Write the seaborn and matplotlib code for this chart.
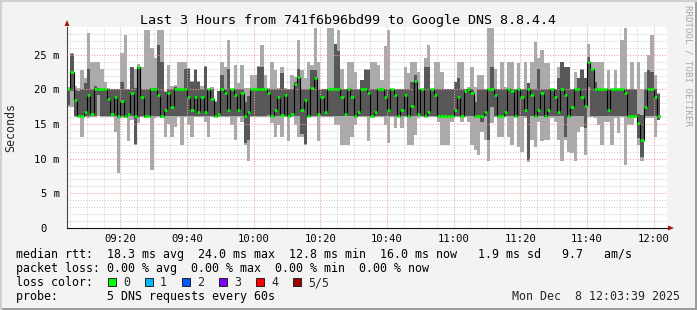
import numpy as np
import pandas as pd
import matplotlib
matplotlib.use("Agg")
import matplotlib.pyplot as plt
import seaborn as sns
from matplotlib.patches import Rectangle, Polygon

# ---------------- data (ms), one value per minute starting 09:04 ----------------
first_minute = 4          # minutes after 09:00 of the first sample
med = [
    20.1, 22.5, 18.5, 16.1, 16.1, 16.8, 19.2, 16.4, 20.0, 20.0,
    20.0, 20.0, 18.6, 16.4, 18.9, 16.1, 18.3, 16.1, 16.4, 19.5,
    16.1, 23.2, 18.9, 16.1, 16.2, 20.0, 20.0, 19.2, 16.1, 17.0,
    19.5, 17.4, 20.0, 20.0, 20.0, 20.0, 18.9, 17.0, 18.9, 16.8,
    18.9, 16.8, 20.0, 18.6, 16.1, 16.4, 20.0, 19.5, 17.0, 20.0,
    19.2, 17.0, 19.5, 16.1, 16.8, 20.0, 20.0, 20.0, 20.0, 20.0,
    19.5, 16.1, 17.0, 18.9, 16.3, 19.2, 16.1, 16.4, 20.8, 21.8,
    17.0, 18.5, 16.1, 20.2, 21.7, 16.4, 18.9, 16.8, 20.0, 20.0,
    20.0, 20.0, 18.9, 16.4, 20.0, 18.9, 16.1, 16.8, 20.0, 20.0,
    19.5, 16.1, 16.8, 20.0, 20.0, 18.9, 17.0, 20.0, 19.2, 16.1,
    17.0, 19.2, 16.1, 17.6, 21.2, 16.4, 20.0, 16.2, 16.8, 20.0,
    19.2, 16.1, 16.1, 16.1, 16.1, 16.1, 17.0, 18.9, 16.1, 19.8,
    20.0, 19.5, 16.1, 16.1, 16.1, 16.8, 20.0, 20.0, 19.2, 16.1,
    16.1, 16.8, 20.0, 19.8, 16.2, 20.0, 18.9, 17.0, 20.0, 19.2,
    16.1, 17.0, 19.5, 16.1, 17.0, 20.0, 18.9, 16.8, 20.0, 19.2,
    16.1, 17.5, 20.0, 20.0, 18.9, 17.6, 24.0, 22.9, 20.0, 20.0,
    20.0, 20.0, 17.0, 20.0, 20.0, 20.0, 20.0, 19.5, 16.1, 16.1,
    16.1, 15.2, 12.7, 17.5, 20.0, 20.0, 18.9, 16.1]
lo = [
    17.5, 17.5, 16.0, 16.0, 13.2, 16.0, 15.8, 16.0, 16.0, 16.1,
    16.0, 16.0, 16.0, 16.0, 13.8, 8.0, 15.8, 15.8, 12.5, 15.6,
    12.0, 15.2, 16.0, 15.9, 16.0, 8.3, 15.9, 16.0, 15.9, 13.2,
    15.0, 13.2, 14.6, 16.0, 12.0, 16.0, 14.9, 13.2, 16.0, 16.0,
    16.0, 15.3, 13.2, 16.0, 16.0, 16.0, 16.0, 16.0, 16.0, 14.9,
    12.7, 16.0, 15.3, 12.0, 9.6, 16.0, 16.0, 16.0, 16.0, 16.0,
    16.0, 15.1, 13.2, 14.9, 13.2, 16.0, 12.5, 16.0, 14.9, 13.2,
    13.2, 12.0, 16.0, 16.0, 16.0, 12.5, 16.0, 16.0, 16.0, 16.0,
    14.9, 14.9, 12.0, 12.0, 12.0, 13.2, 14.9, 16.0, 16.0, 16.0,
    12.5, 16.0, 16.0, 16.0, 16.0, 14.9, 12.2, 16.0, 14.4, 16.0,
    14.4, 16.0, 12.0, 12.0, 13.4, 15.8, 16.0, 16.0, 16.0, 16.0,
    16.0, 15.3, 12.0, 12.0, 12.0, 15.3, 16.0, 16.0, 15.3, 16.0,
    15.3, 12.0, 11.2, 10.5, 13.9, 12.7, 9.6, 15.1, 16.0, 13.2,
    13.2, 16.0, 13.2, 12.0, 16.0, 11.7, 11.0, 15.8, 9.5, 12.7,
    11.7, 15.3, 12.5, 12.7, 12.7, 15.8, 15.3, 12.7, 9.6, 12.7,
    11.0, 10.8, 9.6, 13.9, 14.6, 10.5, 16.0, 16.0, 15.8, 14.9,
    12.0, 15.3, 15.3, 12.0, 15.8, 13.7, 16.0, 9.1, 14.9, 14.9,
    15.8, 12.0, 9.6, 15.8, 15.8, 15.8, 13.2, 15.6]
hi = [
    20.3, 25.2, 20.5, 20.2, 22.8, 21.6, 28.1, 24.0, 24.0, 24.0,
    23.0, 21.1, 20.2, 20.1, 20.1, 20.1, 25.2, 27.8, 20.1, 23.3,
    23.0, 23.6, 23.3, 28.6, 28.6, 25.9, 24.5, 28.6, 28.6, 19.7,
    23.5, 20.5, 20.6, 24.0, 24.0, 24.0, 23.1, 21.2, 22.9, 21.2,
    20.5, 23.4, 20.1, 20.3, 18.3, 19.8, 24.0, 23.3, 27.1, 20.1,
    23.5, 20.9, 23.5, 20.2, 20.2, 22.1, 22.1, 23.4, 26.4, 22.1,
    20.2, 24.0, 22.8, 20.2, 23.3, 20.2, 20.1, 22.1, 21.8, 27.1,
    22.8, 21.6, 24.0, 23.5, 28.8, 24.0, 20.1, 20.1, 28.8, 28.8,
    26.6, 28.6, 23.0, 20.1, 24.0, 24.0, 22.5, 20.1, 21.3, 22.9,
    22.9, 24.0, 24.0, 23.5, 21.3, 26.2, 28.6, 20.1, 20.1, 20.1,
    20.1, 23.3, 22.3, 24.0, 24.0, 22.5, 20.1, 24.5, 26.4, 20.1,
    24.0, 24.0, 22.5, 20.1, 20.1, 20.1, 21.1, 24.0, 24.0, 20.1,
    20.3, 23.3, 20.3, 22.1, 22.1, 20.1, 28.8, 28.8, 23.0, 20.1,
    24.0, 20.3, 24.0, 24.0, 20.1, 23.75, 20.1, 24.0, 20.9, 24.0,
    26.9, 24.5, 25.7, 23.75, 23.75, 20.1, 20.1, 23.3, 24.0, 23.3,
    23.3, 20.1, 22.5, 21.7, 22.9, 21.6, 26.6, 24.0, 24.0, 24.0,
    24.0, 20.1, 22.8, 20.1, 22.8, 20.1, 27.1, 28.8, 20.1, 24.0,
    20.1, 24.0, 20.0, 22.5, 25.0, 27.8, 22.1, 19.5]
q1 = [
    17.8, 19.8, 16.2, 16.1, 16.1, 16.1, 16.1, 16.1, 16.1, 19.2,
    16.1, 16.1, 16.2, 16.1, 16.2, 15.8, 16.1, 16.1, 16.1, 16.1,
    12.1, 16.0, 16.1, 16.0, 16.1, 16.1, 16.1, 16.1, 16.0, 16.2,
    16.1, 16.1, 16.1, 16.1, 16.1, 16.1, 16.1, 16.1, 16.1, 16.1,
    16.1, 16.1, 16.1, 16.1, 16.1, 16.1, 16.1, 16.1, 16.1, 16.1,
    16.1, 16.1, 16.1, 12.2, 12.7, 16.1, 16.1, 16.1, 16.1, 16.1,
    16.3, 16.1, 16.1, 16.1, 16.1, 16.1, 16.0, 16.1, 16.1, 16.1,
    13.5, 12.1, 16.1, 16.1, 16.1, 16.1, 16.1, 16.1, 16.1, 16.1,
    16.1, 16.1, 16.1, 16.1, 16.1, 16.1, 16.0, 16.1, 16.1, 16.1,
    16.1, 16.1, 16.1, 16.1, 16.1, 16.1, 16.1, 16.1, 16.1, 16.1,
    16.1, 16.1, 16.0, 16.1, 16.1, 16.1, 16.1, 16.1, 16.1, 16.1,
    16.1, 16.1, 16.0, 16.0, 16.0, 16.0, 16.1, 16.1, 16.0, 16.1,
    16.1, 16.1, 16.0, 16.0, 15.3, 16.1, 12.7, 17.5, 16.1, 16.0,
    16.0, 16.1, 16.1, 16.1, 16.1, 16.1, 16.1, 16.1, 9.8, 16.1,
    16.0, 16.1, 16.1, 16.0, 16.1, 16.1, 16.1, 16.1, 16.1, 13.2,
    16.0, 16.1, 16.1, 16.1, 16.1, 14.4, 20.4, 16.1, 16.1, 16.1,
    16.1, 16.1, 16.1, 16.1, 16.1, 16.1, 16.1, 16.1, 16.0, 16.0,
    16.0, 13.0, 10.3, 16.1, 16.1, 16.1, 16.1, 15.6]
q3 = [
    20.1, 25.1, 20.0, 19.8, 20.0, 20.9, 23.0, 20.0, 20.5, 20.2,
    20.1, 20.1, 20.0, 20.0, 20.0, 20.0, 21.0, 20.0, 20.0, 23.2,
    20.2, 23.3, 20.0, 20.0, 20.0, 20.2, 20.2, 26.4, 24.0, 19.6,
    20.0, 20.0, 20.4, 20.0, 20.0, 23.0, 23.0, 21.1, 22.8, 21.1,
    20.0, 23.3, 20.0, 20.0, 18.2, 19.7, 22.1, 20.0, 23.0, 20.0,
    20.0, 20.0, 20.0, 18.2, 19.0, 20.0, 20.0, 23.3, 23.3, 20.0,
    20.0, 20.0, 20.0, 20.0, 22.3, 20.0, 20.0, 20.0, 21.0, 23.0,
    20.0, 20.0, 20.0, 22.8, 22.8, 20.0, 20.0, 20.0, 20.1, 20.1,
    26.5, 25.6, 20.0, 20.0, 20.0, 20.0, 20.0, 20.0, 21.3, 22.8,
    22.8, 20.0, 20.0, 20.0, 20.0, 20.0, 20.0, 20.0, 20.0, 20.0,
    20.0, 20.0, 20.0, 21.1, 22.1, 20.0, 20.0, 23.3, 23.3, 20.0,
    20.0, 20.0, 20.0, 20.0, 20.0, 20.0, 21.1, 21.6, 20.0, 20.0,
    20.0, 20.0, 18.2, 20.0, 20.0, 20.0, 20.0, 23.3, 20.0, 20.0,
    20.0, 20.0, 20.0, 20.0, 20.0, 20.0, 20.0, 20.0, 20.9, 20.0,
    20.0, 23.0, 20.0, 20.0, 20.0, 20.0, 20.0, 21.6, 24.0, 23.3,
    23.3, 20.0, 20.0, 21.6, 22.8, 21.6, 24.7, 23.0, 21.1, 20.0,
    20.0, 20.0, 20.0, 20.0, 20.0, 20.0, 20.0, 20.0, 20.0, 20.0,
    20.0, 16.5, 16.3, 20.0, 22.8, 22.5, 20.0, 19.4]

x_tick_minutes = [20, 40, 60, 80, 100, 120, 140, 160, 180]
x_tick_labels = ["09:20", "09:40", "10:00", "10:20", "10:40", "11:00", "11:20", "11:40", "12:00"]
y_tick_values = [0, 5, 10, 15, 20, 25]
y_tick_labels = ["0  ", "5 m", "10 m", "15 m", "20 m", "25 m"]

title = "Last 3 Hours from 741f6b96bd99 to Google DNS 8.8.4.4"
legend_lines = [
    "median rtt:  18.3 ms avg  24.0 ms max  12.8 ms min  16.0 ms now   1.9 ms sd   9.7   am/s",
    "packet loss: 0.00 % avg  0.00 % max  0.00 % min  0.00 % now",
    "loss color:",
    "probe:       5 DNS requests every 60s",
]
loss_labels = ["0", "1", "2", "3", "4", "5/5"]
loss_colors = ["#00FF00", "#00B8FF", "#0059FF", "#7E00FF", "#FF0000", "#A10000"]
date_text = "Mon Dec  8 12:03:39 2025"

# ---------------- figure ----------------
sns.set_theme(style="white")
plt.rcParams["font.family"] = ["DejaVu Sans Mono", "DejaVu Sans"]

W, H = 697, 310
BG = "#F3F3F3"
fig = plt.figure(figsize=(W / 100, H / 100), dpi=100, facecolor=BG)
L, R, T, B = 67, 667, 27, 228
ax = fig.add_axes([L / W, 1 - B / H, (R - L) / W, (B - T) / H])
ax.set_facecolor("white")

n = min(len(med), len(lo), len(hi), len(q1), len(q3))
df = pd.DataFrame({
    "minute": np.arange(n) + first_minute,
    "med": med[:n], "lo": lo[:n], "hi": hi[:n], "q1": q1[:n], "q3": q3[:n],
})

ax.set_xlim(4, 184)
ax.set_ylim(0, 29.0)

# grid (dotted)
for m in range(5, 185, 5):
    major = (m % 20 == 0)
    ax.axvline(m, color="#F0A0A0" if major else "#D4D4D4", lw=0.8,
               ls=(0, (1, 1.4)), zorder=3 if major else 1)
for v in range(1, 29):
    major = (v % 5 == 0)
    ax.axhline(v, color="#F0A0A0" if major else "#D4D4D4", lw=0.8,
               ls=(0, (1, 1.4)), zorder=3 if major else 1)

# smoke
ax.bar(df["minute"], df["hi"] - df["lo"], bottom=df["lo"], width=1.0, align="edge",
       color="#AAAAAA", linewidth=0, antialiased=False, zorder=2)
ax.bar(df["minute"], df["q3"] - df["q1"], bottom=df["q1"], width=1.0, align="edge",
       color="#585858", linewidth=0, antialiased=False, zorder=2)

# median: black step line + green ticks
step_x = list(df["minute"]) + [df["minute"].iloc[-1] + 1]
step_y = list(df["med"]) + [df["med"].iloc[-1]]
sns.lineplot(x=step_x, y=step_y, drawstyle="steps-post", color="black", lw=0.8,
             estimator=None, ax=ax, zorder=4)
ax.hlines(df["med"], df["minute"], df["minute"] + 1, color="#00FF00", lw=1.8, zorder=5)

# axes
for s in ["top", "right"]:
    ax.spines[s].set_visible(False)
ax.spines["left"].set_color("#444444")
ax.spines["bottom"].set_color("#111111")
ax.spines["left"].set_linewidth(0.8)
ax.spines["bottom"].set_linewidth(0.8)
ax.set_xticks(x_tick_minutes)
ax.set_xticklabels(x_tick_labels)
ax.set_xticks(list(range(5, 185, 5)), minor=True)
ax.set_yticks(y_tick_values)
ax.set_yticklabels(y_tick_labels)
ax.set_yticks(list(range(1, 29)), minor=True)
ax.tick_params(axis="both", which="major", direction="out", length=2.2, width=0.7,
               color="#333333", labelsize=7.6, labelcolor="#000000")
ax.tick_params(axis="x", which="major", pad=2.2)
ax.tick_params(axis="y", which="major", pad=3.0)
ax.tick_params(axis="both", which="minor", direction="out", length=1.4, width=0.6, color="#555555")
ax.set_xlabel("")
ax.set_ylabel("")

# arrows
def px(xp, yp):
    return (xp / W, 1 - yp / H)
fig.add_artist(Polygon([px(64.5, 26), px(69.5, 26), px(67, 20)], closed=True,
                       transform=fig.transFigure, facecolor="#A01818", edgecolor="none"))
fig.add_artist(Polygon([px(668, 225.5), px(668, 230.5), px(674, 228)], closed=True,
                       transform=fig.transFigure, facecolor="#A01818", edgecolor="none"))

# texts
fig.text(W / 2 / W, 1 - 24 / H, title, ha="center", va="baseline", fontsize=9.6, color="black")
fig.text(11 / W, 1 - 127 / H, "Seconds", rotation=90, ha="center", va="center", fontsize=8.4)
fig.text(688 / W, 1 - 5 / H, "RRDTOOL / TOBI OETIKER", rotation=270, ha="center", va="top",
         fontsize=6.6, color="#A8A8A8")

baselines = [258, 272, 286, 300]
for line, yb in zip(legend_lines, baselines):
    fig.text(16 / W, 1 - yb / H, line, ha="left", va="baseline", fontsize=8.4, color="black")
fig.text(680 / W, 1 - baselines[3] / H, date_text, ha="right", va="baseline", fontsize=8.4)

for i, (lab, col) in enumerate(zip(loss_labels, loss_colors)):
    bx = 108 + 37 * i
    fig.add_artist(Rectangle(px(bx, 286), 8 / W, 8 / H, transform=fig.transFigure,
                             facecolor=col, edgecolor="#222222", lw=0.7))
    fig.text((bx + 15) / W, 1 - baselines[2] / H, lab, ha="left", va="baseline", fontsize=8.4)

# frame shading
fig.add_artist(Rectangle((0, 0), 1, 2 / H, transform=fig.transFigure, facecolor="#9C9C9C", edgecolor="none"))
fig.add_artist(Rectangle((1 - 2 / W, 0), 2 / W, 1, transform=fig.transFigure, facecolor="#9C9C9C", edgecolor="none"))
fig.add_artist(Rectangle((0, 1 - 2 / H), 1, 2 / H, transform=fig.transFigure, facecolor="#D0D0D0", edgecolor="none"))
fig.add_artist(Rectangle((0, 0), 2 / W, 1, transform=fig.transFigure, facecolor="#D0D0D0", edgecolor="none"))

fig.savefig("out.png", dpi=100, facecolor=BG)
